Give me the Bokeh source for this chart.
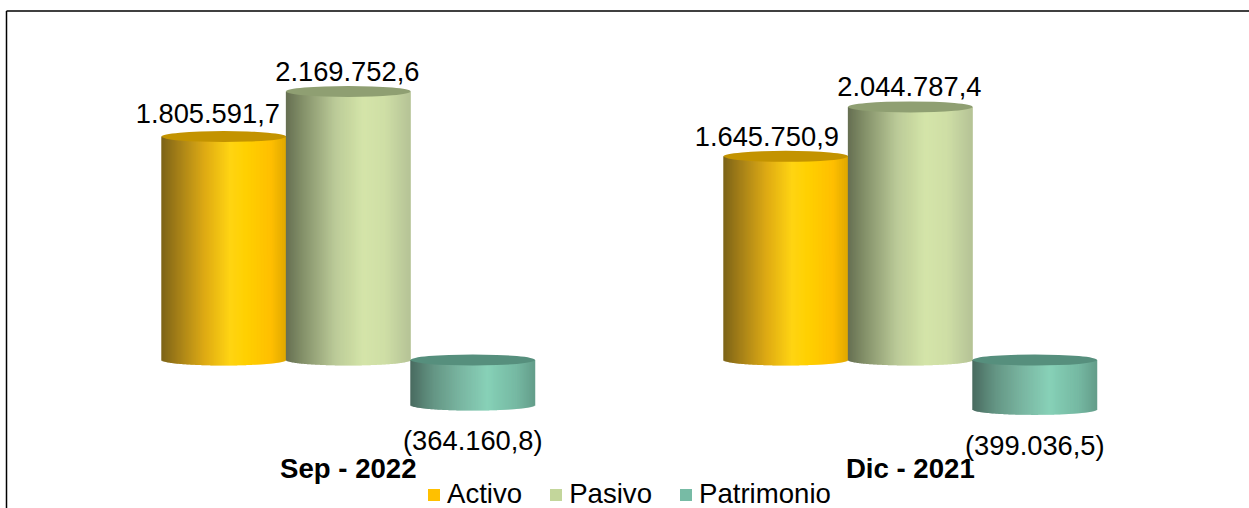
import numpy as np
from bokeh.core.properties import value
from bokeh.embed import file_html
from bokeh.models import ColumnDataSource, Legend, LegendItem, Range1d
from bokeh.plotting import figure
from bokeh.resources import INLINE

# Balance figures per period
periods = ["Sep - 2022", "Dic - 2021"]
series_names = ["Activo", "Pasivo", "Patrimonio"]
activo = [1805591.7, 1645750.9]
pasivo = [2169752.6, 2044787.4]
patrimonio = [-364160.8, -399036.5]
value_labels = {
    "Activo": ["1.805.591,7", "1.645.750,9"],
    "Pasivo": ["2.169.752,6", "2.044.787,4"],
    "Patrimonio": ["(364.160,8)", "(399.036,5)"],
}
series_values = {"Activo": activo, "Pasivo": pasivo, "Patrimonio": patrimonio}

# Cylinder shading: (position across the bar, colour), plus the cap and legend colours
shading = {
    "Activo": [(0, "#6f5400"), (0.12, "#966f00"), (0.35, "#dca400"), (0.55, "#ffd208"), (0.68, "#ffd000"), (0.88, "#ffbf00"), (1, "#dfa800")],
    "Pasivo": [(0, "#666f52"), (0.15, "#87946c"), (0.4, "#bccb99"), (0.62, "#d3e4a6"), (0.8, "#cbdc9f"), (1, "#aebd8c")],
    "Patrimonio": [(0, "#375c50"), (0.18, "#548a77"), (0.4, "#6fb09a"), (0.62, "#85d0b6"), (0.85, "#76b9a3"), (1, "#639d8a")],
}
cap_colors = {"Activo": "#c39300", "Pasivo": "#8f9f72", "Patrimonio": "#568f7d"}
legend_colors = {"Activo": "#ffc000", "Pasivo": "#c3d69b", "Patrimonio": "#77bba5"}

WIDTH, HEIGHT = 1249, 508
PX_PER_GROUP = 562.0
VALUE_PER_PX = 8080.0
GROUP_START_PX = 347.8
BASELINE_PX = 359.5
BAR_W = 124.5 / PX_PER_GROUP
SERIES_OFFSET = {"Activo": -BAR_W, "Pasivo": 0.0, "Patrimonio": BAR_W}
CAP_PX = 11
SLICES = 125

x_range = Range1d(-GROUP_START_PX / PX_PER_GROUP, (WIDTH - GROUP_START_PX) / PX_PER_GROUP)
y_range = Range1d((BASELINE_PX - HEIGHT) * VALUE_PER_PX, BASELINE_PX * VALUE_PER_PX)

p = figure(width=WIDTH, height=HEIGHT, x_range=x_range, y_range=y_range,
           output_backend="svg", toolbar_location=None, min_border=0)
p.axis.visible = False
p.grid.visible = False
p.outline_line_color = None


def shade(stops, t):
    pos = [s[0] for s in stops]
    rgb = np.array([[int(s[1][i:i + 2], 16) for i in (1, 3, 5)] for s in stops], dtype=float)
    c = [np.interp(t, pos, rgb[:, k]) for k in range(3)]
    return "#%02x%02x%02x" % tuple(int(round(v)) for v in c)


def draw_cylinder(center, val, name):
    low, high = min(val, 0.0), max(val, 0.0)
    edges = np.linspace(0.0, 1.0, SLICES + 1)
    mids = (edges[:-1] + edges[1:]) / 2
    arc = np.sqrt(np.clip(1 - (2 * mids - 1) ** 2, 0, 1)) * CAP_PX / 2 * VALUE_PER_PX
    src = ColumnDataSource(dict(
        x=center - BAR_W / 2 + mids * BAR_W,
        top=np.full(SLICES, high),
        bottom=low - arc,
        color=[shade(shading[name], t) for t in mids],
    ))
    # Slight overlap between the strips keeps seams from showing
    p.vbar(x="x", top="top", bottom="bottom", width=BAR_W / SLICES * 1.4,
           fill_color="color", line_color=None, source=src)
    p.ellipse(x=[center], y=[high], width=[BAR_W], height=[CAP_PX], height_units="screen",
              fill_color=cap_colors[name], line_color=None)


label_font = value("Liberation Sans")
for name in series_names:
    for g, val in enumerate(series_values[name]):
        draw_cylinder(g + SERIES_OFFSET[name], val, name)

# Label nudges per series and period, in screen pixels
LABEL_SHIFT = {
    "Activo": [(-16, -23), (-19, -20)],
    "Pasivo": [(-1, -20), (-1, -20)],
    "Patrimonio": [(0, 35), (0, 36)],
}
for name in series_names:
    src = ColumnDataSource(dict(
        x=[g + SERIES_OFFSET[name] for g in range(len(periods))],
        y=series_values[name],
        text=value_labels[name],
        dx=[s[0] for s in LABEL_SHIFT[name]],
        dy=[s[1] for s in LABEL_SHIFT[name]],
    ))
    p.text(x="x", y="y", text="text", x_offset="dx", y_offset="dy", source=src,
           text_font=label_font, text_font_size="27.3px", text_color="#000000",
           text_align="center", text_baseline="middle")

# Period names sit under the Pasivo column of each group
p.text(x=list(range(len(periods))), y=[0, 0], text=periods, y_offset=108,
       text_font=label_font, text_font_size="27.6px", text_font_style="bold",
       text_color="#000000", text_align="center", text_baseline="middle")

# Chart frame, visible along the top and left edges
frame_x = x_range.start + 6 / PX_PER_GROUP
frame_y = y_range.end - 10.5 * VALUE_PER_PX
p.segment(x0=[frame_x, frame_x], y0=[frame_y, frame_y],
          x1=[x_range.end, frame_x], y1=[frame_y, y_range.start],
          line_color="#000000", line_width=1.5)

# Legend swatches take their colour from off-range placeholder bars
items = []
for name in series_names:
    r = p.vbar(x=[x_range.start - 1], top=[0], width=0.1, fill_color=legend_colors[name], line_color=None)
    items.append(LegendItem(label=value(name), renderers=[r]))
legend = Legend(items=items, orientation="horizontal", location=(426, -2),
                glyph_width=15, glyph_height=15, label_standoff=6, spacing=26,
                padding=0, margin=0, border_line_color=None, background_fill_alpha=0,
                label_text_font="Liberation Sans", label_text_font_size="27.6px",
                label_text_color="#000000", label_height=24)
p.add_layout(legend, "center")

open("out.html", "w").write(file_html(p, INLINE))
